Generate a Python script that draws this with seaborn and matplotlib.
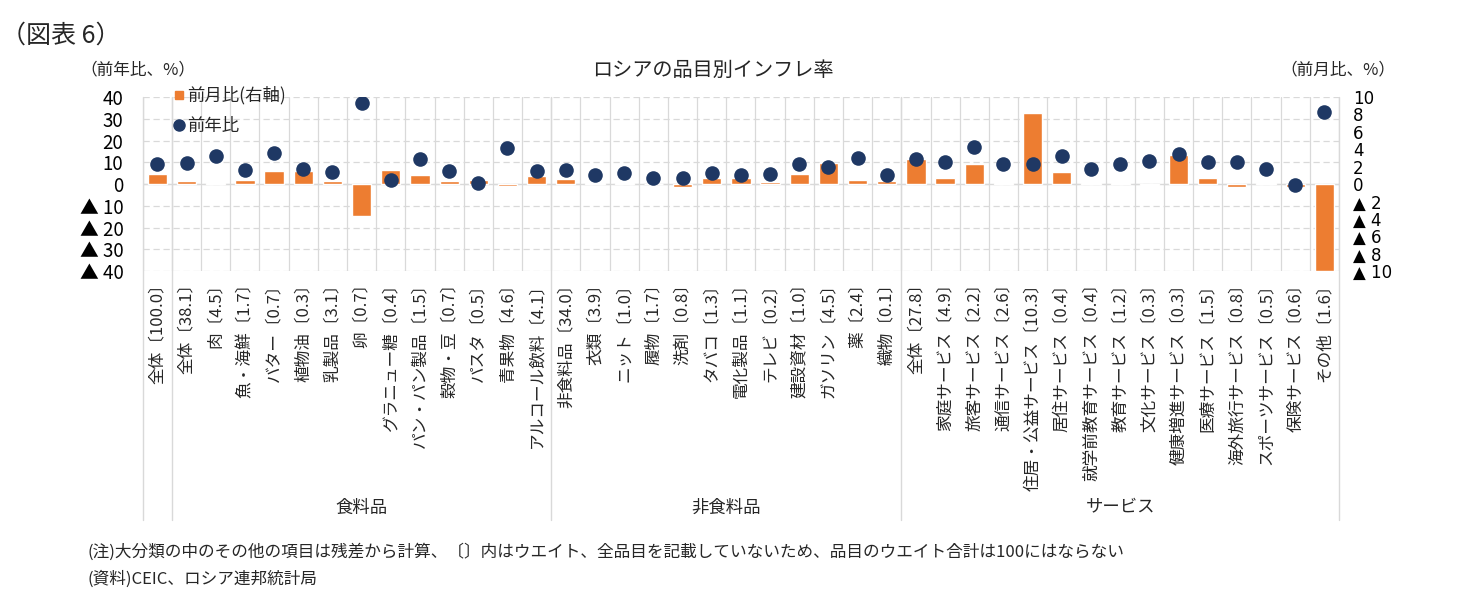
import numpy as np
import pandas as pd
import matplotlib
matplotlib.use("Agg")
import matplotlib.pyplot as plt
from matplotlib.ticker import MultipleLocator, FixedLocator
from matplotlib.lines import Line2D
import seaborn as sns

labels = ["全体〔100.0〕", "全体〔38.1〕", "肉〔4.5〕", "魚・海鮮〔1.7〕", "バター〔0.7〕",
          "植物油〔0.3〕", "乳製品〔3.1〕", "卵〔0.7〕", "グラニュー糖〔0.4〕", "パン・パン製品〔1.5〕",
          "穀物・豆〔0.7〕", "パスタ〔0.5〕", "青果物〔4.6〕", "アルコール飲料〔4.1〕",
          "非食料品〔34.0〕", "衣類〔3.9〕", "ニット〔1.0〕", "履物〔1.7〕", "洗剤〔0.8〕",
          "タバコ〔1.3〕", "電化製品〔1.1〕", "テレビ〔0.2〕", "建設資材〔1.0〕", "ガソリン〔4.5〕",
          "薬〔2.4〕", "織物〔0.1〕",
          "全体〔27.8〕", "家庭サービス〔4.9〕", "旅客サービス〔2.2〕", "通信サービス〔2.6〕",
          "住居・公益サービス〔10.3〕", "居住サービス〔0.4〕", "就学前教育サービス〔0.4〕",
          "教育サービス〔1.2〕", "文化サービス〔0.3〕", "健康増進サービス〔0.3〕", "医療サービス〔1.5〕",
          "海外旅行サービス〔0.8〕", "スポーツサービス〔0.5〕", "保険サービス〔0.6〕", "その他〔1.6〕"]

# 前年比 (left axis, %)
yoy = [9.1, 9.6, 13.1, 6.5, 14.3, 6.8, 5.5, 37.3, 1.8, 11.3, 6.2, 0.6, 16.7, 5.9,
       6.5, 4.3, 5.0, 2.7, 2.7, 5.0, 4.0, 4.4, 9.1, 7.9, 11.9, 4.3,
       11.4, 10.2, 17.2, 9.1, 9.4, 13.1, 6.7, 9.0, 10.6, 14.0, 9.9, 10.0, 6.8, -0.6, 32.9]

# 前月比 (right axis, %)
mom = [1.14, 0.38, 0.1, 0.5, 1.48, 1.48, 0.3, -3.73, 1.6, 1.06, 0.3, 0.42, -0.19, 0.95,
       0.57, 0.1, 0.08, 0.02, -0.38, 0.65, 0.68, 0.23, 1.1, 2.43, 0.5, 0.3,
       2.85, 0.65, 2.28, 0.1, 8.2, 1.4, 0.1, 0.1, -0.15, 3.3, 0.72, -0.38, 0.08, -0.38, -10.0]

groups = ["食料品", "非食料品", "サービス"]
group_spans = [(1, 13), (14, 25), (26, 40)]

df = pd.DataFrame({"label": labels, "yoy": yoy, "mom": mom})

sns.set_style("white")
plt.rcParams["font.family"] = ["Noto Sans CJK JP", "DejaVu Sans"]

bar_color = "#ED7D31"
dot_color = "#1F3864"
grid_color = "#D9D9D9"

fig = plt.figure(figsize=(14.57, 6.09), dpi=100)
ax = fig.add_axes([0.098, 0.555, 0.821, 0.2857])
ax2 = ax.twinx()

sns.barplot(data=df, x="label", y="mom", color=bar_color, width=0.66,
            saturation=1, ax=ax, zorder=3)
sns.stripplot(data=df, x="label", y="yoy", color=dot_color, jitter=False,
              size=10.5, linewidth=0, ax=ax2, zorder=5)

n = len(labels)
ax.set_xlim(-0.5, n - 0.5)
ax.set_ylim(-10, 10)
ax2.set_ylim(-40, 40)

# right axis (monthly) ticks
ax.yaxis.tick_right()
ax.yaxis.set_major_locator(MultipleLocator(2))
ax.set_yticklabels(["▲ " + str(abs(int(v))) if v < 0 else str(int(v)) for v in ax.get_yticks()])
# left axis (yearly) ticks
ax2.yaxis.tick_left()
ax2.yaxis.set_major_locator(MultipleLocator(10))
ax2.set_yticklabels(["▲ " + str(abs(int(v))) if v < 0 else str(int(v)) for v in ax2.get_yticks()])

ax.tick_params(axis="y", length=0, pad=10, labelsize=12, colors="black")
ax2.tick_params(axis="y", length=0, pad=14, labelsize=13.5, colors="black")
for lab in ax.get_yticklabels():
    lab.set_horizontalalignment("left")
    lab.set_family(["DejaVu Sans"])

# grid
ax.yaxis.set_minor_locator(MultipleLocator(2.5))
ax.yaxis.remove_overlapping_locs = False
ax.xaxis.set_minor_locator(FixedLocator(np.arange(-0.5, n, 1)))
ax.grid(False)
ax2.grid(False)
ax.grid(which="minor", axis="y", color=grid_color, lw=0.9, ls=(0, (5, 3)), zorder=0)
ax.grid(which="minor", axis="x", color=grid_color, lw=0.9, ls="-", zorder=0)
ax.axhline(0, color=grid_color, lw=1.0, zorder=1)
ax.tick_params(which="minor", length=0)

for a in (ax, ax2):
    for s in a.spines.values():
        s.set_visible(False)

ax.set_xlabel("")
ax.set_ylabel("")
ax2.set_xlabel("")
ax2.set_ylabel("")
ax.set_xticks(range(n))
ax.set_xticklabels(labels, rotation=90, fontsize=12)
ax.tick_params(axis="x", length=0, pad=3)

# group separators and labels
for xb in [-0.5, 0.5, 13.5, 25.5, 40.5]:
    ax.axvline(xb, ymin=-1.43, ymax=1, color=grid_color, lw=1.0, clip_on=False, zorder=0)
for g, (a0, a1) in zip(groups, group_spans):
    ax.text((a0 + a1) / 2, -1.36, g, transform=ax.get_xaxis_transform(),
            ha="center", va="center", fontsize=12.5)

# legend
handles = [Line2D([], [], ls="", marker="s", color=bar_color, markersize=6),
           Line2D([], [], ls="", marker="o", color=dot_color, markersize=8)]
ax2.legend(handles, ["前月比(右軸)", "前年比"], loc="upper left",
           bbox_to_anchor=(0.112, 0.87), bbox_transform=fig.transFigure,
           frameon=False, fontsize=12.5, handletextpad=0.0, labelspacing=0.7,
           borderaxespad=0, handlelength=1.0)

fig.text(0.489, 0.885, "ロシアの品目別インフレ率", ha="center", va="center", fontsize=14.5)
fig.text(0.055, 0.885, "（前年比、%）", ha="left", va="center", fontsize=12)
fig.text(0.879, 0.885, "（前月比、%）", ha="left", va="center", fontsize=12)
fig.text(0.001, 0.942, "（図表 6）", ha="left", va="center", fontsize=18)
fig.text(0.060, 0.093, "(注)大分類の中のその他の項目は残差から計算、〔〕内はウエイト、全品目を記載していないため、品目のウエイト合計は100にはならない",
         ha="left", va="center", fontsize=12)
fig.text(0.060, 0.049, "(資料)CEIC、ロシア連邦統計局", ha="left", va="center", fontsize=12)

fig.savefig("out.png", dpi=100)
